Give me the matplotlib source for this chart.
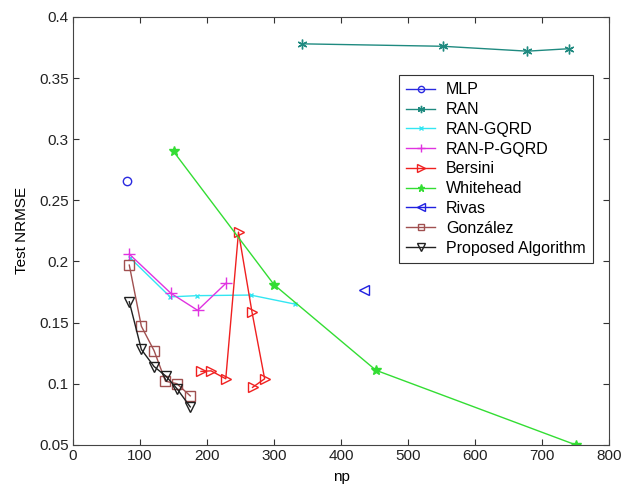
import matplotlib
matplotlib.use('Agg')
import matplotlib.pyplot as plt

plt.rcParams['font.family'] = ['Liberation Sans', 'DejaVu Sans']
plt.rcParams['font.size'] = 11

# test error against number of parameters for each method
mlp_np = [80]
mlp_err = [0.266]

ran_np = [342, 552, 678, 740]
ran_err = [0.378, 0.376, 0.372, 0.374]

gqrd_np = [85, 145, 185, 265, 332]
gqrd_err = [0.203, 0.171, 0.172, 0.1725, 0.165]

pgqrd_np = [84, 146, 186, 228]
pgqrd_err = [0.206, 0.174, 0.160, 0.182]

bersini_np = [191, 206, 228, 247, 267, 286, 268]
bersini_err = [0.110, 0.1105, 0.104, 0.224, 0.159, 0.104, 0.097]

whitehead_np = [150, 300, 452, 750]
whitehead_err = [0.290, 0.181, 0.111, 0.050]

rivas_np = [435]
rivas_err = [0.177]

gonzalez_np = [84, 102, 121, 138, 155, 175]
gonzalez_err = [0.197, 0.147, 0.127, 0.102, 0.100, 0.090]

proposed_np = [84, 102, 121, 139, 155, 175]
proposed_err = [0.167, 0.128, 0.114, 0.106, 0.096, 0.081]

xticks = [0, 100, 200, 300, 400, 500, 600, 700, 800]
yticks = [0.05, 0.1, 0.15, 0.2, 0.25, 0.3, 0.35, 0.4]
ytick_labels = ['0.05', '0.1', '0.15', '0.2', '0.25', '0.3', '0.35', '0.4']

fig = plt.figure(figsize=(6.24, 4.84), dpi=100)
ax = fig.add_axes([0.117, 0.081, 0.859, 0.884])

lw = 1.0
ax.plot(mlp_np, mlp_err, color='#2a2ae0', marker='o', ms=6, mfc='none',
        lw=lw, label='MLP')
ax.plot(ran_np, ran_err, color='#1f8a80', marker=(6, 2, 0), ms=7,
        lw=lw, label='RAN')
ax.plot(gqrd_np, gqrd_err, color='#33e6f2', marker='x', ms=3,
        lw=lw, label='RAN-GQRD')
ax.plot(pgqrd_np, pgqrd_err, color='#e033e0', marker='+', ms=8,
        lw=lw, label='RAN-P-GQRD')
ax.plot(bersini_np, bersini_err, color='#f02020', marker='>', ms=7,
        mfc='none', lw=lw, label='Bersini')
ax.plot(whitehead_np, whitehead_err, color='#33dd33', marker='*', ms=7,
        lw=lw, label='Whitehead')
ax.plot(rivas_np, rivas_err, color='#2020e0', marker='<', ms=7,
        mfc='none', lw=lw, label='Rivas')
ax.plot(gonzalez_np, gonzalez_err, color='#a05050', marker='s', ms=6.5,
        mfc='none', lw=lw, label='González')
ax.plot(proposed_np, proposed_err, color='#202020', marker='v', ms=7,
        mfc='none', lw=lw, label='Proposed Algorithm')

ax.set_xlim(0, 800)
ax.set_ylim(0.05, 0.4)
ax.set_xticks(xticks)
ax.set_yticks(yticks)
ax.set_yticklabels(ytick_labels)
ax.tick_params(direction='in', top=True, right=True, length=4, pad=3,
               width=0.8, colors='#333333', labelcolor='#222222')
for sp in ax.spines.values():
    sp.set_color('#444444')
    sp.set_linewidth(0.8)

ax.set_xlabel('np', labelpad=5)
ax.set_ylabel('Test NRMSE', labelpad=7)

leg = ax.legend(loc='upper right', bbox_to_anchor=(0.970, 0.864),
                borderaxespad=0, fancybox=False, framealpha=1,
                edgecolor='#333333', handlelength=1.8, labelspacing=0.3,
                borderpad=0.45, handletextpad=0.7, markerscale=0.75,
                fontsize=11.5)
leg.get_frame().set_linewidth(0.8)

fig.savefig('out.png', dpi=100)
